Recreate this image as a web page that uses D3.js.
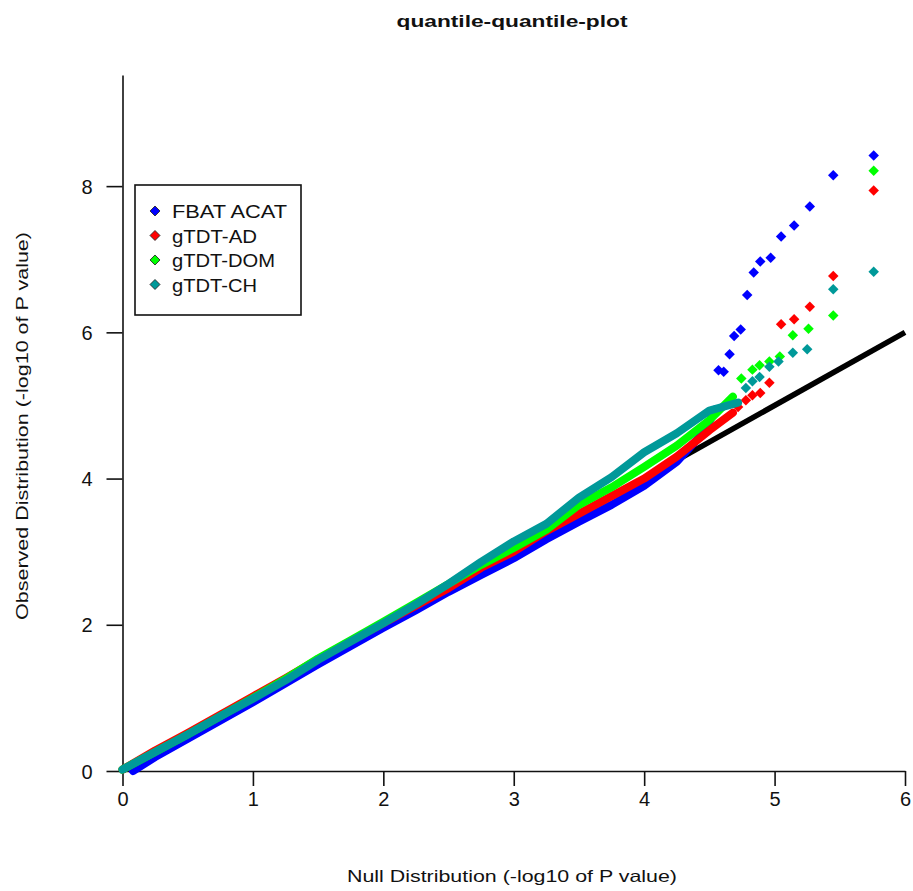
<!DOCTYPE html>
<html>
<head>
<meta charset="utf-8">
<script src="https://cdn.jsdelivr.net/npm/d3@7"></script>
<style>
  body { margin: 0; background: #fff; }
  text { font-family: Arial, "Liberation Sans", sans-serif; fill: #111; }
</style>
</head>
<body>
<svg id="chart" width="913" height="891"></svg>
<script>
var svg = d3.select("#chart");

// series names / colours
var seriesNames = ["FBAT ACAT", "gTDT-AD", "gTDT-DOM", "gTDT-CH"];
var seriesColors = ["#0000FF", "#FF0000", "#00FF00", "#009999"];

// expected (null) range for the y = x line
var nullRange = [0, 6];

// dense part of each series: [expected, observed]
var acatBand = [[0.08,0.0],[0.25,0.19],[0.5,0.44],[0.75,0.69],[1.0,0.94],[1.25,1.2],[1.5,1.46],[1.75,1.71],[2.0,1.96],[2.25,2.2],[2.5,2.45],[2.75,2.68],[3.0,2.91],[3.25,3.17],[3.5,3.41],[3.75,3.64],[4.0,3.9],[4.25,4.23],[4.45,4.62],[4.55,4.95]];
var adBand = [[0.0,0.02],[0.25,0.28],[0.5,0.52],[0.75,0.77],[1.0,1.02],[1.25,1.27],[1.5,1.53],[1.75,1.78],[2.0,2.02],[2.25,2.26],[2.5,2.5],[2.75,2.78],[3.0,3.0],[3.25,3.28],[3.5,3.52],[3.75,3.76],[4.0,4.0],[4.25,4.3],[4.5,4.66],[4.68,4.9]];
var domBand = [[0.0,0.02],[0.25,0.26],[0.5,0.5],[0.75,0.75],[1.0,1.0],[1.25,1.26],[1.5,1.54],[1.75,1.79],[2.0,2.04],[2.25,2.3],[2.5,2.56],[2.75,2.82],[3.0,3.05],[3.25,3.3],[3.5,3.64],[3.75,3.88],[4.0,4.16],[4.25,4.45],[4.5,4.8],[4.68,5.12]];
var chBand = [[0.0,0.02],[0.25,0.26],[0.5,0.5],[0.75,0.75],[1.0,0.99],[1.25,1.24],[1.5,1.52],[1.75,1.77],[2.0,2.02],[2.25,2.28],[2.5,2.56],[2.75,2.86],[3.0,3.14],[3.25,3.38],[3.5,3.74],[3.75,4.02],[4.0,4.36],[4.25,4.62],[4.5,4.93],[4.72,5.04]];

// top hits (single points)
var acatTail = [[4.57,5.48],[4.61,5.46],[4.655,5.70],[4.69,5.95],[4.74,6.04],[4.79,6.51],[4.84,6.82],[4.89,6.97],[4.97,7.02],[5.05,7.31],[5.15,7.46],[5.27,7.72],[5.45,8.15],[5.76,8.42]];
var adTail = [[4.72,4.98],[4.78,5.07],[4.83,5.14],[4.89,5.17],[4.96,5.31],[5.05,6.11],[5.15,6.18],[5.27,6.35],[5.45,6.77],[5.76,7.94]];
var domTail = [[4.745,5.37],[4.83,5.49],[4.885,5.55],[4.96,5.60],[5.04,5.67],[5.14,5.96],[5.26,6.05],[5.45,6.23],[5.76,8.21]];
var chTail = [[4.78,5.24],[4.83,5.33],[4.885,5.39],[4.96,5.53],[5.03,5.60],[5.14,5.72],[5.25,5.77],[5.45,6.59],[5.76,6.83]];

var xTicks = [0, 1, 2, 3, 4, 5, 6];
var yTicks = [0, 2, 4, 6, 8];

var bands = [acatBand, adBand, domBand, chBand];
var tails = [acatTail, adTail, domTail, chTail];

// scales
var x = d3.scaleLinear().domain([0, 6]).range([122.5, 905]);
var y = d3.scaleLinear().domain([0, 9.52]).range([771, 75]);

// title
svg.append("text")
  .attr("x", 512)
  .attr("y", 27)
  .attr("text-anchor", "middle")
  .style("font-size", "17px")
  .style("font-weight", "bold")
  .attr("textLength", 231)
  .attr("lengthAdjust", "spacingAndGlyphs")
  .text("quantile-quantile-plot");

// axes
var xAxis = svg.append("g")
  .attr("transform", "translate(0,771)")
  .call(d3.axisBottom(x).tickValues(xTicks).tickFormat(d3.format("d"))
    .tickSize(15).tickSizeOuter(0).tickPadding(6));

var yAxis = svg.append("g")
  .attr("transform", "translate(122.5,0)")
  .call(d3.axisLeft(y).tickValues(yTicks).tickFormat(d3.format("d"))
    .tickSize(16).tickSizeOuter(0).tickPadding(14));

[xAxis, yAxis].forEach(function(g) {
  g.attr("font-size", 20);
  g.select(".domain").attr("stroke", "#111").attr("stroke-width", 1.6);
  g.selectAll(".tick line").attr("stroke", "#111").attr("stroke-width", 1.6);
  g.selectAll(".tick text")
    .style("font-size", "20px")
    .style("font-family", "Arial, 'Liberation Sans', sans-serif")
    .attr("fill", "#111");
});
yAxis.selectAll(".tick text").attr("dy", "0.36em");

// axis titles
svg.append("text")
  .attr("x", 512)
  .attr("y", 882)
  .attr("text-anchor", "middle")
  .style("font-size", "16.5px")
  .attr("textLength", 330)
  .attr("lengthAdjust", "spacingAndGlyphs")
  .text("Null Distribution (-log10 of P value)");

svg.append("text")
  .attr("transform", "translate(28,426) rotate(-90)")
  .attr("text-anchor", "middle")
  .style("font-size", "16.5px")
  .attr("textLength", 388)
  .attr("lengthAdjust", "spacingAndGlyphs")
  .text("Observed Distribution (-log10 of P value)");

// null line
svg.append("line")
  .attr("x1", x(nullRange[0])).attr("y1", y(nullRange[0]))
  .attr("x2", x(nullRange[1])).attr("y2", y(nullRange[1]))
  .attr("stroke", "#000")
  .attr("stroke-width", 5.5);

var line = d3.line()
  .x(d => x(d[0]))
  .y(d => y(d[1]));

var diamond = d3.symbol().type(d3.symbolSquare).size(55);

// series, drawn in order so gTDT-CH ends on top
bands.forEach(function(band, i) {
  var g = svg.append("g");
  g.append("path")
    .attr("d", line(band))
    .attr("fill", "none")
    .attr("stroke", seriesColors[i])
    .attr("stroke-width", 8)
    .attr("stroke-linejoin", "round")
    .attr("stroke-linecap", "round");

  g.selectAll("path.pt")
    .data(tails[i])
    .enter()
    .append("path")
      .attr("class", "pt")
      .attr("d", diamond)
      .attr("transform", d => "translate(" + x(d[0]) + "," + y(d[1]) + ") rotate(45)")
      .attr("fill", seriesColors[i]);
});

// legend
var legend = svg.append("g").attr("transform", "translate(135,185)");
legend.append("rect")
  .attr("width", 166)
  .attr("height", 130)
  .attr("fill", "#fff")
  .attr("stroke", "#111")
  .attr("stroke-width", 1.6);

var legendWidths = [115, 85, 103, 85];
seriesNames.forEach(function(name, i) {
  var ly = 26 + i * 24.5;
  legend.append("path")
    .attr("d", d3.symbol().type(d3.symbolSquare).size(50))
    .attr("transform", "translate(20," + ly + ") rotate(45)")
    .attr("fill", seriesColors[i])
    .attr("stroke", "#222")
    .attr("stroke-width", 0.8);
  legend.append("text")
    .attr("x", 37)
    .attr("y", ly + 7)
    .style("font-size", "19px")
    .attr("textLength", legendWidths[i])
    .attr("lengthAdjust", "spacingAndGlyphs")
    .text(name);
});
</script>
</body>
</html>
